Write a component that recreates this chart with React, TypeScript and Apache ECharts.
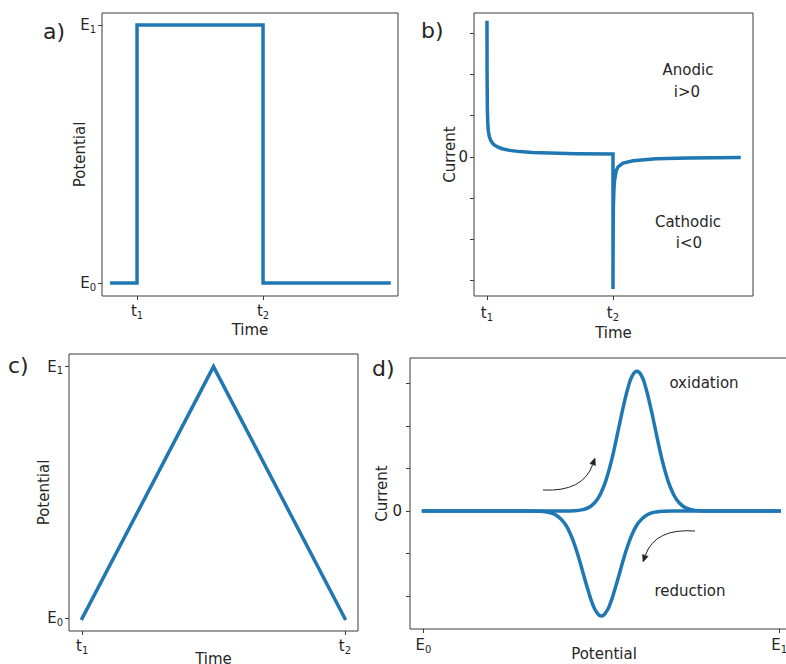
import React, { useEffect, useRef } from 'react';
import * as echarts from 'echarts';

const BLUE = '#1f77b4';
const INK = '#262626';
const SPINE = '#3a3a3a';
const FONT = 'DejaVu Sans';

// a) potential step: E0 -> E1 at t1, back to E0 at t2
const stepTime = [-0.2, 0, 0, 1, 1, 2];
const stepPotential = [0, 0, 1, 1, 0, 0];

// b) current response to the step
const chronoTime = [
  0, 0.001, 0.003, 0.006, 0.01, 0.018, 0.03, 0.05, 0.08, 0.12, 0.18, 0.26, 0.36, 0.5, 0.7, 1.0,
  1.0, 1.001, 1.003, 1.008, 1.013, 1.025, 1.04, 1.08, 1.16, 1.34, 1.6, 2.0,
];
const chronoCurrent = [
  3.26, 1.9, 1.2, 0.85, 0.65, 0.5, 0.4, 0.31, 0.25, 0.2, 0.16, 0.13, 0.11, 0.095, 0.08, 0.07,
  -3.2, -2.0, -1.2, -0.75, -0.56, -0.34, -0.24, -0.15, -0.09, -0.045, -0.025, -0.015,
];

// c) triangular sweep
const sweepTime = [0, 1, 2];
const sweepPotential = [0, 1, 0];

// d) cyclic voltammogram, forward (oxidation) and reverse (reduction) scans
const forwardPotential = [
  0, 0.4, 0.425, 0.45, 0.4625, 0.475, 0.4875, 0.5, 0.5125, 0.525, 0.5375, 0.55, 0.5625, 0.575, 0.5875,
  0.6, 0.6125, 0.625, 0.6375, 0.65, 0.6625, 0.675, 0.6875, 0.7, 0.7125, 0.725, 0.7375, 0.75, 0.775, 0.8, 1,
];
const forwardCurrent = [
  0, 0.001, 0.007, 0.037, 0.075, 0.145, 0.26, 0.445, 0.71, 1.07, 1.51, 2.0, 2.48, 2.9, 3.19,
  3.29, 3.19, 2.9, 2.48, 2.0, 1.51, 1.07, 0.71, 0.445, 0.26, 0.145, 0.075, 0.037, 0.007, 0.001, 0,
];
const reversePotential = [
  1, 0.7, 0.675, 0.6625, 0.65, 0.6375, 0.625, 0.6125, 0.6, 0.5875, 0.575, 0.5625, 0.55, 0.5375, 0.525, 0.5125,
  0.5, 0.4875, 0.475, 0.4625, 0.45, 0.4375, 0.425, 0.4125, 0.4, 0.3875, 0.375, 0.3625, 0.35, 0.325, 0.3, 0,
];
const reverseCurrent = [
  0, -0.001, -0.005, -0.013, -0.027, -0.056, -0.11, -0.2, -0.33, -0.53, -0.8, -1.13, -1.5, -1.86, -2.18, -2.39,
  -2.47, -2.39, -2.18, -1.86, -1.5, -1.13, -0.8, -0.53, -0.33, -0.2, -0.11, -0.056, -0.027, -0.005, -0.001, 0,
];

// tick labels (value, symbol, subscript)
const stepTimeTicks: [number, string, string][] = [[0, 't', '1'], [1, 't', '2']];
const sweepTimeTicks: [number, string, string][] = [[0, 't', '1'], [2, 't', '2']];
const potentialTicks: [number, string, string][] = [[0, 'E', '0'], [1, 'E', '1']];
const zeroTick: [number, string, string][] = [[0, '0', '']];
const chronoCurrentTicks = [-3, -2, -1, 0, 1, 2, 3];
const cvCurrentTicks = [-2, -1, 0, 1, 2, 3];

const zip = (xs: number[], ys: number[]) => xs.map((x, i) => [x, ys[i]]);

const rich = {
  m: { fontSize: 15, lineHeight: 18, fontFamily: FONT, color: INK },
  s: { fontSize: 10, lineHeight: 6, verticalAlign: 'bottom', fontFamily: FONT, color: INK },
};

function axis(
  gridIndex: number,
  min: number,
  max: number,
  labels: [number, string, string][],
  ticks: number[],
  name: string,
  nameGap: number,
  margin: number
) {
  return {
    type: 'value',
    gridIndex,
    min,
    max,
    axisLine: { show: false, onZero: false },
    splitLine: { show: false },
    axisTick: { show: true, customValues: ticks, length: 4, lineStyle: { color: SPINE, width: 1 } },
    axisLabel: {
      customValues: labels.map((l) => l[0]),
      margin,
      formatter: (v: number) => {
        const l = labels.find((e) => Math.abs(e[0] - v) < 1e-9);
        if (!l) return '';
        return l[2] ? `{m|${l[1]}}{s|${l[2]}}` : `{m|${l[1]}}`;
      },
      rich,
    },
    name,
    nameLocation: 'middle',
    nameGap,
    nameMoveOverlap: false,
    nameTextStyle: { fontSize: 15, fontFamily: FONT, color: INK },
  };
}

function line(xi: number, data: number[][], smooth = false) {
  return {
    type: 'line',
    xAxisIndex: xi,
    yAxisIndex: xi,
    data,
    showSymbol: false,
    smooth,
    clip: false,
    lineStyle: { color: BLUE, width: 3.5, cap: 'square', join: 'miter' },
  };
}

function text(x: number, y: number, s: string, size = 15, align = 'center') {
  return {
    type: 'text',
    x,
    y,
    style: {
      text: s,
      fontSize: size,
      fontFamily: FONT,
      fill: INK,
      textAlign: align,
      textVerticalAlign: 'middle',
    },
  };
}

// curved annotation arrow: quadratic curve with a filled head at the end
function arrow(x1: number, y1: number, cx: number, cy: number, x2: number, y2: number) {
  const dx = x2 - cx;
  const dy = y2 - cy;
  const len = Math.hypot(dx, dy);
  const ux = dx / len;
  const uy = dy / len;
  const hl = 7;
  const hw = 3;
  const bx = x2 - ux * hl;
  const by = y2 - uy * hl;
  return [
    {
      type: 'bezierCurve',
      shape: { x1, y1, x2: bx, y2: by, cpx1: cx, cpy1: cy },
      style: { stroke: '#222', lineWidth: 1, fill: null },
    },
    {
      type: 'polygon',
      shape: {
        points: [
          [x2, y2],
          [bx - uy * hw, by + ux * hw],
          [bx + uy * hw, by - ux * hw],
        ],
      },
      style: { fill: '#222', stroke: '#222', lineWidth: 0.5 },
    },
  ];
}

export default function App() {
  const ref = useRef<HTMLDivElement>(null);

  useEffect(() => {
    if (!ref.current) return;
    const chart = echarts.init(ref.current, null, { renderer: 'svg' });
    const grid = (left: number, top: number, width: number, height: number) => ({
      left,
      top,
      width,
      height,
      show: true,
      borderColor: SPINE,
      borderWidth: 1,
      backgroundColor: 'transparent',
      containLabel: false,
      outerBoundsMode: 'none',
    });
    chart.setOption({
      animation: false,
      backgroundColor: '#ffffff',
      textStyle: { fontFamily: FONT },
      grid: [
        grid(102, 13, 296, 283),
        grid(474, 13, 279, 283),
        grid(69, 354, 289, 277),
        grid(410, 358, 388, 271),
      ],
      xAxis: [
        axis(0, -0.278, 2.071, stepTimeTicks, [0, 1], 'Time', 26, 6),
        axis(1, -0.103, 2.111, stepTimeTicks, [0, 1], 'Time', 29, 8),
        axis(2, -0.1, 2.1, sweepTimeTicks, [0, 2], 'Time', 20, 6),
        axis(3, -0.038, 1.053, potentialTicks, [0, 1], 'Potential', 17, 7),
      ],
      yAxis: [
        axis(0, -0.05, 1.047, potentialTicks, [0, 1], 'Potential', 15, 6),
        axis(1, -3.37, 3.49, zeroTick, chronoCurrentTicks, 'Current', 17, 6),
        axis(2, -0.05, 1.05, potentialTicks, [0, 1], 'Potential', 18, 6),
        axis(3, -2.776, 3.6, zeroTick, cvCurrentTicks, 'Current', 21, 8),
      ],
      series: [
        line(0, zip(stepTime, stepPotential)),
        line(1, zip(chronoTime, chronoCurrent)),
        line(2, zip(sweepTime, sweepPotential)),
        line(3, zip(forwardPotential, forwardCurrent), true),
        line(3, zip(reversePotential, reverseCurrent), true),
      ],
      graphic: [
        text(43, 31, 'a)', 22, 'left'),
        text(421, 30, 'b)', 22, 'left'),
        text(8, 365, 'c)', 22, 'left'),
        text(372, 368, 'd)', 22, 'left'),
        text(688, 70, 'Anodic'),
        text(687, 92, 'i>0'),
        text(688, 222, 'Cathodic'),
        text(689, 243, 'i<0'),
        text(704, 383, 'oxidation'),
        text(690, 591, 'reduction'),
        ...arrow(543, 490, 583, 492, 595, 458),
        ...arrow(695, 531, 655, 528, 643, 562),
      ],
    });
    return () => chart.dispose();
  }, []);

  return (
    <div
      ref={ref}
      style={{ position: 'fixed', left: 0, top: 0, width: 786, height: 664, background: '#fff' }}
    />
  );
}
